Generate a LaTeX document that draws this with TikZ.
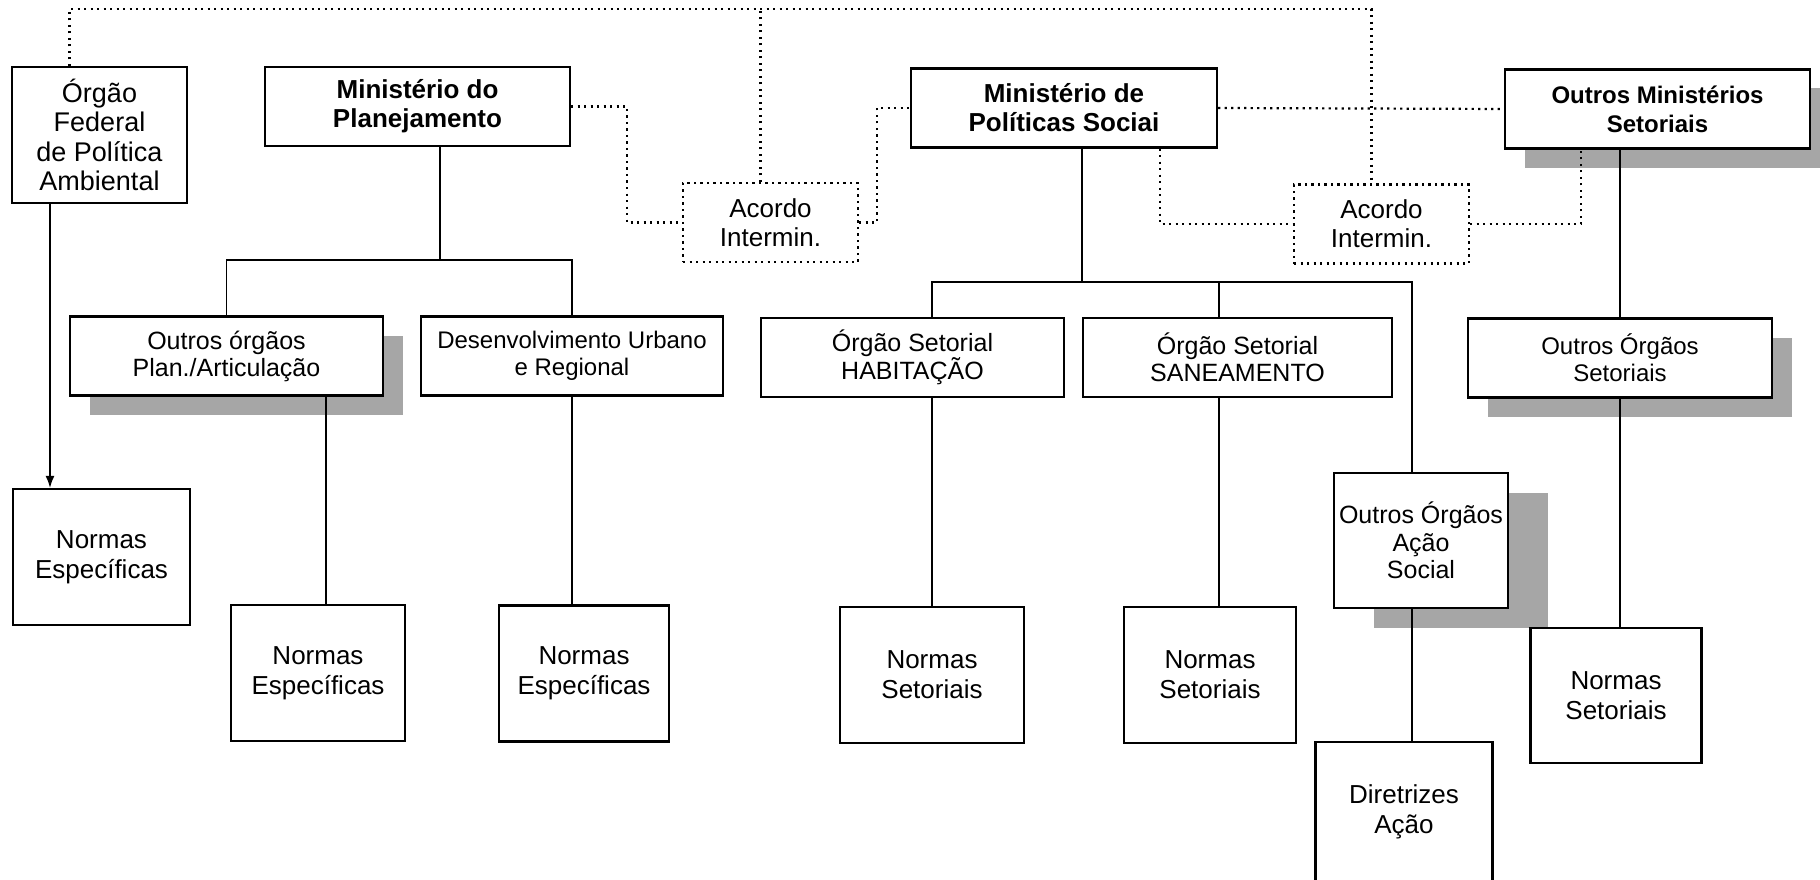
\documentclass[tikz,border=0pt]{standalone}
\usepackage{fontspec}
\setmainfont{Liberation Sans}
\usetikzlibrary{shadows,arrows.meta}

\tikzset{
  box/.style={draw, line width=2.2pt, fill=white, rectangle, align=center, inner sep=0pt},
  minist/.style={box, minimum width=305pt, minimum height=79pt, font=\fontsize{26}{29}\selectfont\bfseries},
  orgao/.style={box, minimum width=305pt, minimum height=79pt, font=\fontsize{25}{27}\selectfont},
  normas/.style={box, minimum width=174pt, minimum height=136pt, font=\fontsize{26}{30}\selectfont},
  acordo/.style={draw, dotline, fill=white, rectangle, align=center, inner sep=0pt, minimum width=175pt, minimum height=79pt, font=\fontsize{26}{29}\selectfont},
  sombra/.style={drop shadow={shadow xshift=20pt, shadow yshift=-19pt, fill=black!35, opacity=1}},
  dotline/.style={line width=2.2pt, dash pattern=on 2.2pt off 4.3pt},
  wire/.style={line width=1.4pt},
}

\begin{document}
\begin{tikzpicture}[x=1pt,y=-1pt]
  \useasboundingbox (0,0) rectangle (1820,880);
  % ministerios
  \node[box, minimum width=175pt, minimum height=136pt, font=\fontsize{27}{29.5}\selectfont] (orgfed) at (99.5,135) {Órgão\\Federal\\de Política\\Ambiental};
  \node[minist] (minplan) at (417.5,106.5) {Ministério do\\Planejamento};
  \node[minist, minimum width=306pt] (minsoc) at (1064,108) {Ministério de\\Políticas Sociai};
  \node[minist, sombra, font=\fontsize{24}{29}\selectfont\bfseries] (minout) at (1657.5,109) {Outros Ministérios\\Setoriais};
  \node[acordo] (acordoA) at (770.5,222.5) {Acordo\\Intermin.};
  \node[acordo] (acordoB) at (1381.5,224) {Acordo\\Intermin.};
  % orgaos
  \node[orgao, minimum width=313pt, sombra] (outplan) at (226.5,356) {Outros órgãos\\Plan./Articulação};
  \node[orgao, minimum width=302pt, font=\fontsize{24}{27}\selectfont] (desurb) at (572,356) {Desenvolvimento Urbano\\e Regional};
  \node[orgao, minimum width=303pt] (hab) at (912.5,357.5) {Órgão Setorial\\HABITAÇÃO};
  \node[orgao, minimum width=309pt] (san) at (1237.5,357.5) {Órgão Setorial\\SANEAMENTO};
  \node[orgao, minimum width=304pt, sombra, font=\fontsize{24}{27}\selectfont] (outset) at (1620,358) {Outros Órgãos\\Setoriais};
  \node[normas, minimum height=135pt, font=\fontsize{25}{27.5}\selectfont, drop shadow={shadow xshift=40pt, shadow yshift=-20pt, fill=black!35, opacity=1}] (acaosoc) at (1421,540.5) {Outros Órgãos\\Ação\\Social};
  % normas
  \node[normas, minimum width=177pt] (nefed) at (101.5,557) {Normas\\Específicas};
  \node[normas] (neplan) at (318,673) {Normas\\Específicas};
  \node[normas, minimum width=170pt] (nedes) at (584,673.5) {Normas\\Específicas};
  \node[normas, minimum width=184pt] (nshab) at (932,675) {Normas\\Setoriais};
  \node[normas, minimum width=172pt] (nssan) at (1210,675) {Normas\\Setoriais};
  \node[normas, minimum width=177pt, minimum height=140pt] (diretr) at (1404,812) {Diretrizes\\Ação};
  \node[normas, minimum width=171pt, minimum height=135pt] (nsout) at (1616,695.5) {Normas\\Setoriais};

  % ligacoes pontilhadas
  \coordinate (topo) at (0,9);
  \draw[dotline] ([xshift=-30pt]orgfed.north) -- ([xshift=-30pt]orgfed.north |- topo) -| ([xshift=-10pt]acordoB.north);
  \draw[dotline] ([xshift=-10pt]acordoA.north) -- ([xshift=-10pt]acordoA.north |- topo);
  \draw[dotline] (minplan.east) -- ++(56,0) |- (acordoA.west);
  \draw[dotline] (acordoA.east) -- ++(18,0) |- (minsoc.west);
  \draw[dotline] (minsoc.east) -- (minout.west);
  \draw[dotline] ([xshift=96pt]minsoc.south) |- (acordoB.west);
  \draw[dotline] (acordoB.east) -| ([xshift=-76.5pt]minout.south);

  % planejamento
  \coordinate (jplan) at (440,260);
  \draw[wire] (minplan.south -| jplan) -- (jplan);
  \draw[wire] (outplan.north) |- (jplan) -| (desurb.north);
  \draw[wire] ([xshift=8pt]neplan.north) -- ([xshift=8pt]neplan.north |- outplan.south);
  \draw[wire] (desurb.south) -- (desurb.south |- nedes.north);
  \draw[wire, -{Latex[length=12pt,width=9pt]}] ([xshift=-49.5pt]orgfed.south) -- ([xshift=-49.5pt]orgfed.south |- nefed.north);

  % politicas sociais
  \coordinate (jsoc) at (1082,282);
  \coordinate (stemsan) at (1219,282);
  \coordinate (stemacao) at (1412,282);
  \draw[wire] (minsoc.south -| jsoc) -- (jsoc);
  \draw[wire] (hab.north -| nshab.north) |- (jsoc) -| (acaosoc.north -| stemacao);
  \draw[wire] (san.north -| stemsan) -- (stemsan);
  \draw[wire] (hab.south -| nshab.north) -- (nshab.north);
  \draw[wire] (san.south -| stemsan) -- (nssan.north -| stemsan);
  \draw[wire] (acaosoc.south -| stemacao) -- (diretr.north -| stemacao);

  % outros ministerios
  \draw[wire] (minout.south -| outset.north) -- (outset.north);
  \draw[wire] (outset.south) -- (nsout.north -| outset.south);
\end{tikzpicture}
\end{document}
